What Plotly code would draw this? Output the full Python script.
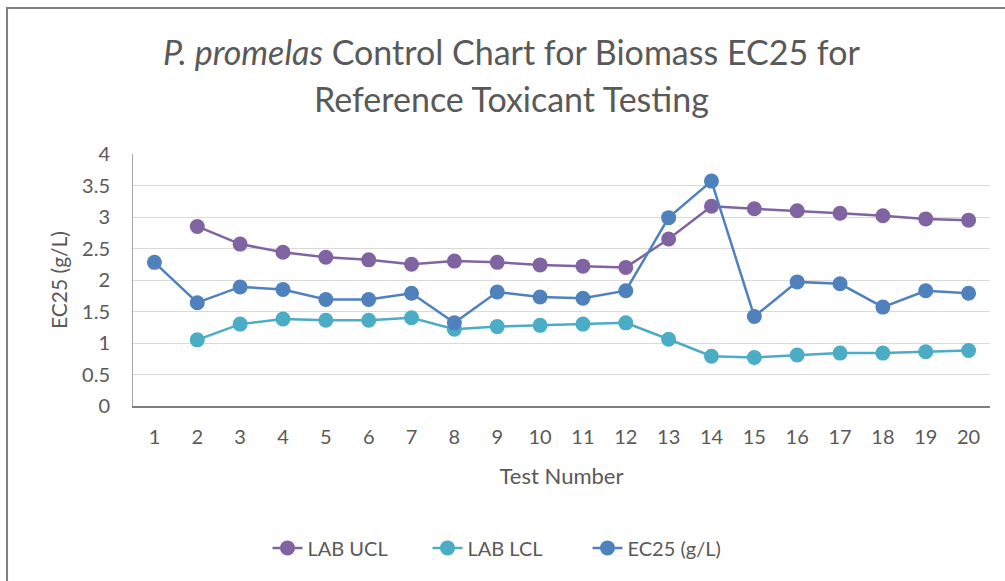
import plotly.graph_objects as go

tests = list(range(1, 21))

lab_ucl = [None, 2.85, 2.57, 2.44, 2.36, 2.32, 2.25, 2.30, 2.28, 2.24, 2.22, 2.20,
           2.65, 3.17, 3.13, 3.10, 3.06, 3.02, 2.97, 2.95]
lab_lcl = [None, 1.05, 1.30, 1.38, 1.36, 1.36, 1.40, 1.22, 1.26, 1.28, 1.30, 1.32,
           1.06, 0.79, 0.77, 0.81, 0.84, 0.84, 0.86, 0.88]
ec25 = [2.28, 1.64, 1.89, 1.85, 1.69, 1.69, 1.79, 1.32, 1.81, 1.73, 1.71, 1.83,
        2.99, 3.57, 1.42, 1.97, 1.94, 1.57, 1.83, 1.79]

y_ticks = [0, 0.5, 1, 1.5, 2, 2.5, 3, 3.5, 4]

title_lines = ["<i>P. promelas</i> Control Chart for Biomass EC25 for",
               "Reference Toxicant Testing"]

FONT = "Lato"
GREY_TEXT = "#595959"

series = [
    ("LAB UCL", lab_ucl, "#8064A2"),
    ("LAB LCL", lab_lcl, "#4BACC6"),
    ("EC25 (g/L)", ec25, "#4F81BD"),
]

fig = go.Figure()
for name, vals, color in series:
    fig.add_trace(go.Scatter(
        x=tests,
        y=vals,
        mode="lines+markers",
        name=name,
        line=dict(color=color, width=2.5),
        marker=dict(size=15, color=color),
    ))

fig.update_layout(
    width=1005,
    height=581,
    margin=dict(l=133, r=15, t=154, b=175),
    paper_bgcolor="white",
    plot_bgcolor="white",
    font=dict(family=FONT, color=GREY_TEXT, size=20),
    showlegend=True,
    legend=dict(
        orientation="h",
        x=0.437, xanchor="center",
        y=-0.563, yanchor="middle",
        font=dict(size=20, color=GREY_TEXT),
        entrywidth=115,
        entrywidthmode="pixels",
    ),
    xaxis=dict(
        range=[0.5, 20.5],
        tickmode="array",
        tickvals=tests,
        ticktext=[str(t) for t in tests],
        showgrid=False,
        showline=True,
        linecolor="#7F7F7F",
        linewidth=1.5,
        zeroline=False,
        ticks="",
        ticklabelstandoff=12,
        tickfont=dict(size=20),
        title=dict(text="Test Number", font=dict(size=22), standoff=22),
    ),
    yaxis=dict(
        range=[0, 4],
        tickvals=y_ticks,
        ticktext=[f"{v:g}" for v in y_ticks],
        showgrid=True,
        gridcolor="#D9D9D9",
        gridwidth=1,
        showline=True,
        linecolor="#A6A6A6",
        zeroline=False,
        ticks="",
        ticklabelstandoff=18,
        tickfont=dict(size=20),
        title=dict(text="EC25 (g/L)", font=dict(size=21), standoff=8),
    ),
)

# two-line chart title
for text, ypos in zip(title_lines, [1.405, 1.222]):
    fig.add_annotation(
        text=text, xref="paper", yref="paper",
        x=0.442, y=ypos, xanchor="center", yanchor="middle",
        showarrow=False,
        font=dict(size=34, family=FONT, color=GREY_TEXT),
    )

# outer chart border
fig.add_shape(
    type="rect", xref="paper", yref="paper",
    x0=-0.147, x1=1.03, y0=-0.75, y1=1.579,
    line=dict(color="#7F7F7F", width=2),
    fillcolor="rgba(0,0,0,0)",
    layer="below",
)

# drop the default 8px body margin so the figure sits at the page origin
fig.write_html(
    "out.html",
    config={"displayModeBar": False},
    post_script="document.body.style.margin='0';",
)
